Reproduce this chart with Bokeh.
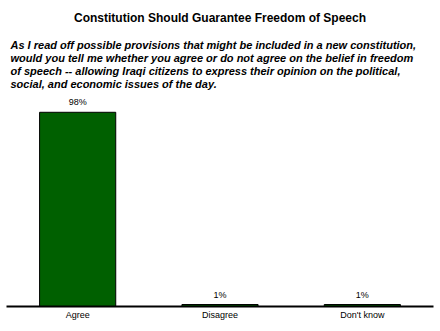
from bokeh.plotting import figure
from bokeh.models import FactorRange, Range1d, Title, ColumnDataSource, LabelSet
from bokeh.core.properties import value
from bokeh.embed import file_html
from bokeh.resources import INLINE

categories = ["Agree", "Disagree", "Don't know"]
values = [98, 1, 1]
labels = ["98%", "1%", "1%"]

title_text = "Constitution Should Guarantee Freedom of Speech"
subtitle_lines = [
    "As I read off possible provisions that might be included in a new constitution,",
    "would you tell me whether you agree or do not agree on the belief in freedom",
    "of speech -- allowing Iraqi citizens to express their opinion on the political,",
    "social, and economic issues of the day.",
]

FONT = "Liberation Sans"

src = ColumnDataSource(dict(cat=categories, val=values, lab=labels))

p = figure(width=440, height=331, output_backend="svg", toolbar_location=None,
           x_range=FactorRange(factors=categories),
           y_range=Range1d(0, 109.5),
           min_border_left=6, min_border_right=7, min_border_bottom=25, min_border_top=0)
p.outline_line_color = None
p.grid.visible = False
p.yaxis.visible = False
p.background_fill_color = "white"
p.border_fill_color = "white"

p.vbar(x="cat", top="val", width=0.535, source=src, fill_color="#006000",
       line_color="black", line_width=1)

p.add_layout(LabelSet(x="cat", y="val", text="lab", source=src, text_align="center",
                      text_baseline="bottom", y_offset=5, text_font=value(FONT),
                      text_font_size="9px", text_color="black"))

xa = p.xaxis[0]
xa.axis_line_color = "black"
xa.axis_line_width = 2
xa.major_tick_line_color = None
xa.minor_tick_line_color = None
xa.major_label_text_font = FONT
xa.major_label_text_font_size = "9px"
xa.major_label_text_color = "black"
xa.major_label_standoff = -3

for line in reversed(subtitle_lines):
    p.add_layout(Title(text=line, align="left", text_font=FONT, text_font_size="11px",
                       text_font_style="bold italic", text_color="black",
                       offset=4, standoff=-1), "above")
p.add_layout(Title(text=title_text, align="center", text_font=FONT, text_font_size="12px",
                   text_font_style="bold", text_color="black", standoff=21,
                   vertical_align="top"), "above")

open("out.html", "w").write(file_html(p, INLINE))
